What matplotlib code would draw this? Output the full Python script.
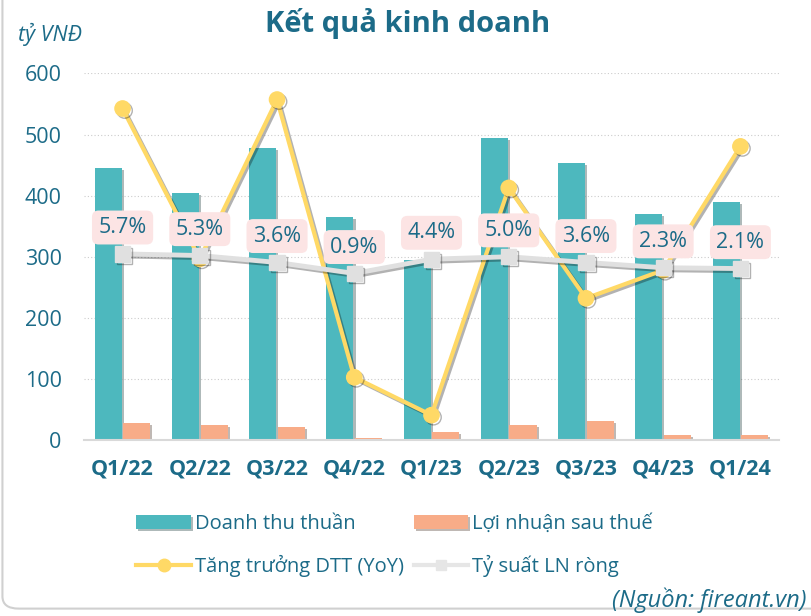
import numpy as np
import matplotlib.pyplot as plt
import matplotlib.patheffects as pe
from matplotlib.patches import FancyBboxPatch
from matplotlib.lines import Line2D

plt.rcParams['font.family'] = ['Open Sans', 'DejaVu Sans']

quarters = ['Q1/22', 'Q2/22', 'Q3/22', 'Q4/22', 'Q1/23', 'Q2/23', 'Q3/23', 'Q4/23', 'Q1/24']
revenue = [445, 404, 478, 365, 294, 494, 453, 370, 390]
profit = [28, 24, 21, 4, 13, 25, 31, 8, 8]
growth = [41.4, 4.5, 43.6, -24.6, -33.9, 21.9, -5.2, 1.7, 32.1]
margin = [5.7, 5.3, 3.6, 0.9, 4.4, 5.0, 3.6, 2.3, 2.1]

txt = '#1C6B88'
teal = '#4DB8BE'
salmon = '#F8AC88'
yellow = '#FFD966'
grey = '#E0E0E0'

fig = plt.figure(figsize=(8.12, 6.16), dpi=100)

# rounded frame (only left/bottom visible)
frame = FancyBboxPatch((0.003, 0.012), 1.2, 1.2, boxstyle='round,pad=0,rounding_size=0.02',
                       transform=fig.transFigure, facecolor='none', edgecolor='#D0D0D0',
                       linewidth=1.5, zorder=0)
fig.patches.append(frame)

ax = fig.add_axes([0.1034, 0.2857, 0.856, 0.595])
x = np.arange(len(quarters))
w = 0.35
shadow = [pe.SimplePatchShadow(offset=(1.5, -1.5), alpha=0.35), pe.Normal()]
b1 = ax.bar(x - w / 2 - 0.01, revenue, w, color=teal, zorder=2, path_effects=shadow,
            label='Doanh thu thuần')
b2 = ax.bar(x + w / 2 + 0.01, profit, w, color=salmon, zorder=2, path_effects=shadow,
            label='Lợi nhuận sau thuế')

ax.set_xlim(-0.5, len(quarters) - 0.5)
ax.set_ylim(0, 600)
ax.set_yticks(range(0, 601, 100))
ax.grid(axis='y', color='#CCCCCC', linestyle=(0, (1, 2)), linewidth=0.8, zorder=0)
ax.set_axisbelow(True)
for s in ['top', 'right', 'left']:
    ax.spines[s].set_visible(False)
ax.spines['bottom'].set_color('#D9D9D9')
ax.spines['bottom'].set_linewidth(1.5)
ax.tick_params(axis='both', length=0)
ax.tick_params(axis='y', pad=16, labelsize=15.5, labelcolor=txt)
ax.tick_params(axis='x', pad=13, labelcolor=txt)
ax.set_xticks(x)
ax.set_xticklabels(quarters, fontsize=15.5, fontweight='bold')

ax2 = ax.twinx()
ax2.set_ylim(-40, 50)
ax2.axis('off')
lshadow = [pe.SimpleLineShadow(offset=(1.5, -1.5), alpha=0.3), pe.Normal()]
ax2.plot(x, growth, color=yellow, linewidth=3, marker='o', markersize=11,
         zorder=3, clip_on=False, path_effects=lshadow)
ax2.plot(x, margin, color=grey, linewidth=3.5, marker='s', markersize=11,
         zorder=4, clip_on=False, path_effects=lshadow)

for xi, m in zip(x, margin):
    ax2.annotate(f'{m:.1f}%', (xi, m), xytext=(0, 19), textcoords='offset points',
                 ha='center', va='center', fontsize=15.5, color=txt, zorder=6,
                 bbox=dict(boxstyle='round,pad=0.3,rounding_size=0.3', fc='#FCE4E4', ec='none'))

fig.text(0.502, 0.962, 'Kết quả kinh doanh', ha='center', va='center', fontsize=21,
         fontweight='bold', color=txt)
fig.text(0.022, 0.944, 'tỷ VNĐ', ha='left', va='center', fontsize=15.5, style='italic', color=txt)
fig.text(0.993, 0.026, '(Nguồn: fireant.vn)', ha='right', va='center', fontsize=17,
         style='italic', color=txt)

h_growth = Line2D([], [], color=yellow, linewidth=3, marker='o', markersize=9)
h_margin = Line2D([], [], color='#E6E6E6', linewidth=3, marker='s', markersize=7)
fig.legend(handles=[b1, h_growth, b2, h_margin],
           labels=['Doanh thu thuần', 'Tăng trưởng DTT (YoY)', 'Lợi nhuận sau thuế', 'Tỷ suất LN ròng'],
           loc='upper left', bbox_to_anchor=(0.168, 0.166),
           ncol=2, frameon=False, fontsize=14.5, labelcolor=txt, borderpad=0,
           borderaxespad=0, handlelength=2.7, handleheight=0.7, handletextpad=0.2,
           labelspacing=1.05, columnspacing=0.5)

fig.savefig('out.png', dpi=100)
